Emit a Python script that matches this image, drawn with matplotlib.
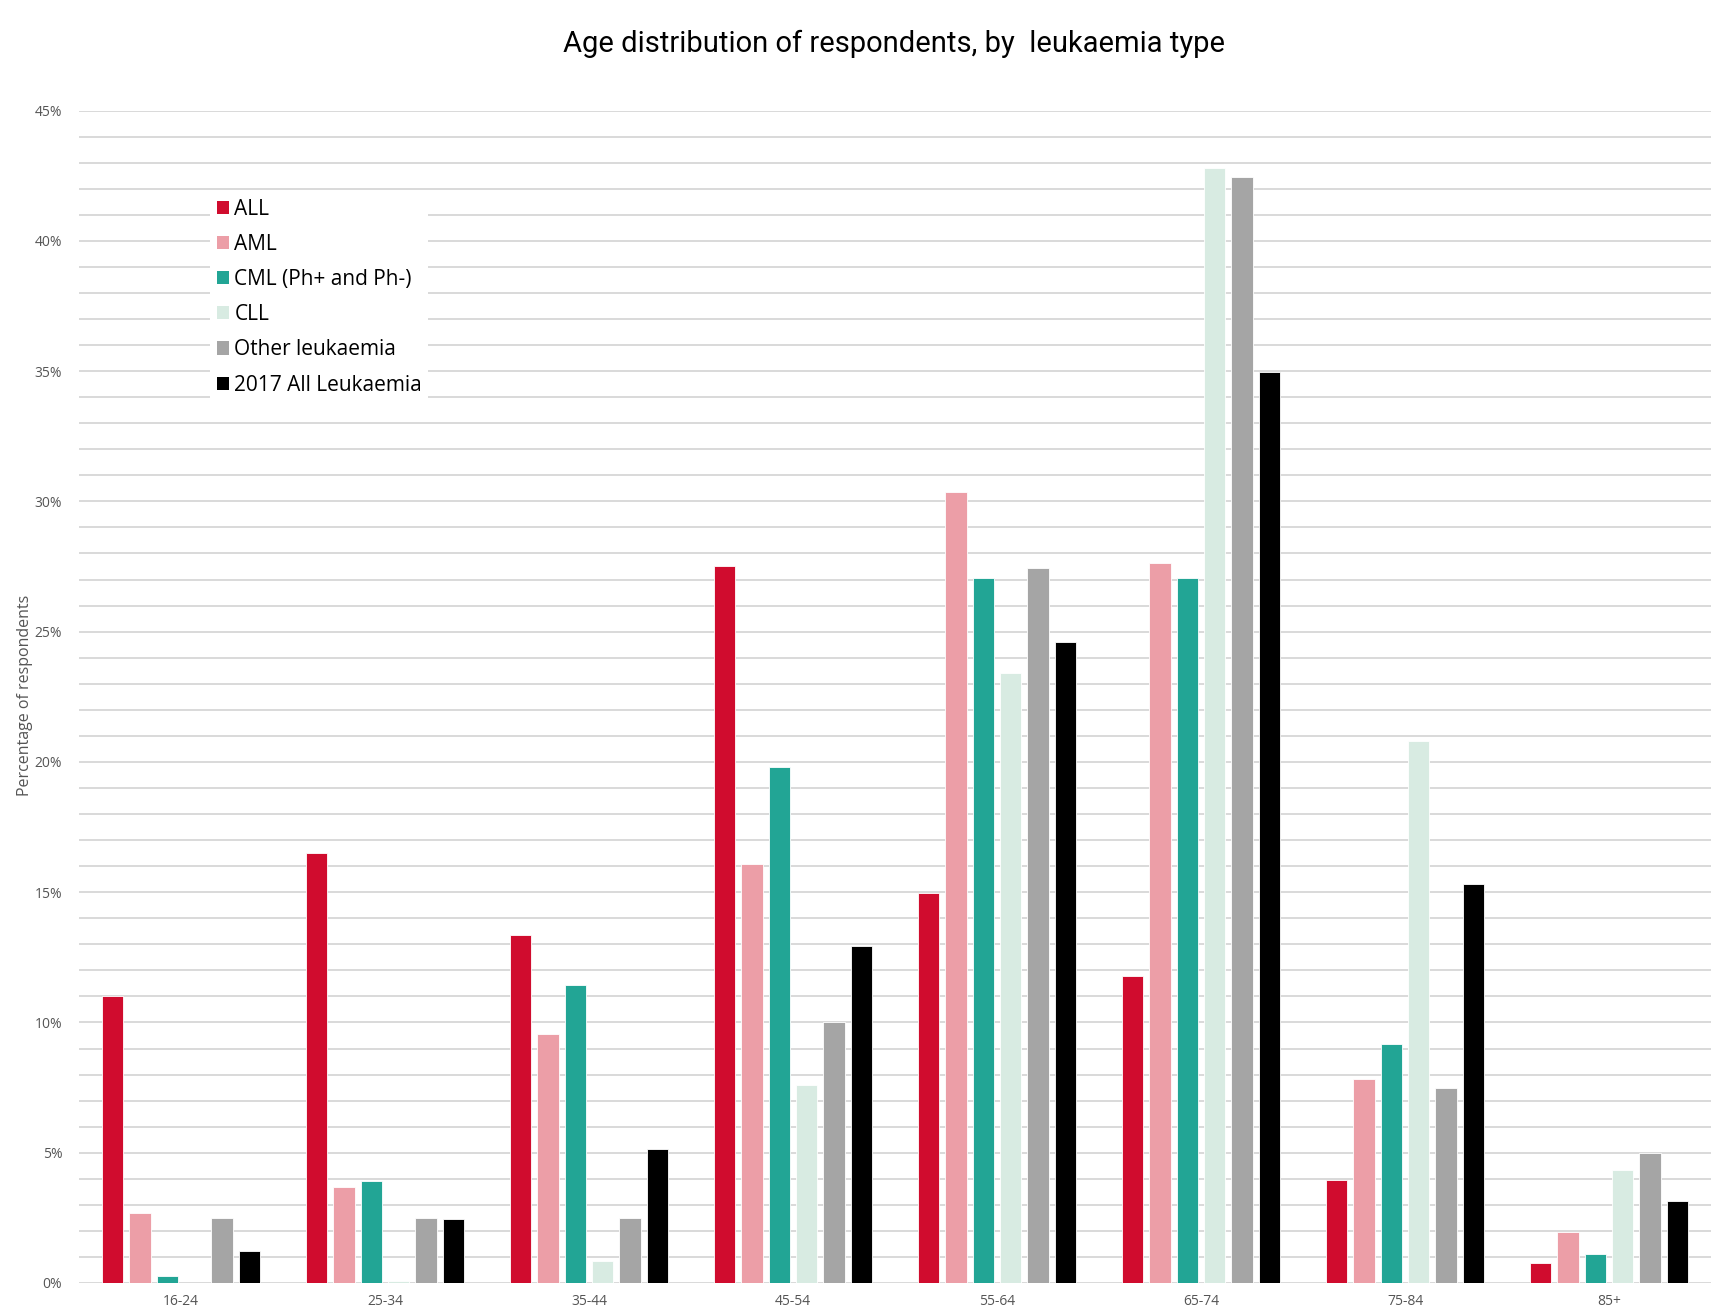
import matplotlib
matplotlib.use("Agg")
import matplotlib.pyplot as plt
from matplotlib.patches import Patch
from matplotlib.ticker import MultipleLocator, FuncFormatter
import numpy as np

# age bands and percentage of respondents per leukaemia type
ages = ["16-24", "25-34", "35-44", "45-54", "55-64", "65-74", "75-84", "85+"]
all_pct = [11.0, 16.5, 13.35, 27.5, 14.95, 11.8, 3.94, 0.78]
aml_pct = [2.7, 3.68, 9.55, 16.1, 30.35, 27.65, 7.83, 1.95]
cml_pct = [0.27, 3.9, 11.43, 19.8, 27.05, 27.05, 9.17, 1.11]
cll_pct = [0.0, 0.08, 0.84, 7.58, 23.4, 42.8, 20.8, 4.34]
other_pct = [2.5, 2.5, 2.5, 10.0, 27.46, 42.45, 7.49, 5.0]
all2017_pct = [1.24, 2.45, 5.15, 12.93, 24.62, 34.95, 15.32, 3.16]

series = [all_pct, aml_pct, cml_pct, cll_pct, other_pct, all2017_pct]
names = ["ALL", "AML", "CML (Ph+ and Ph-)", "CLL", "Other leukaemia", "2017 All Leukaemia"]
colors = ["#D00C2E", "#EC9EA7", "#22A595", "#D8EBE2", "#A5A5A5", "#000000"]

fig = plt.figure(figsize=(17.12, 13.12), dpi=100)
ax = fig.add_axes([79 / 1712, 1 - 1283 / 1312, 1632 / 1712, (1283 - 110.5) / 1312])

x = np.arange(len(ages))
pitch = 0.134
width = 0.105
for i, (vals, col) in enumerate(zip(series, colors)):
    ax.bar(x + (i - 2.5) * pitch, vals, width, color=col, edgecolor="white",
           linewidth=0.6, zorder=3)

ax.set_xlim(-0.5, 7.5)
ax.set_ylim(0, 45)
ax.yaxis.set_major_locator(MultipleLocator(5))
ax.yaxis.set_minor_locator(MultipleLocator(1))
ax.yaxis.set_major_formatter(FuncFormatter(lambda v, p: f"{v:.0f}%"))
ax.grid(axis="y", which="both", color="#D9D9D9", linewidth=1.4, zorder=0)
ax.set_axisbelow(True)
for s in ax.spines.values():
    s.set_visible(False)

ax.set_xticks(x)
ax.set_xticklabels(ages)
ax.tick_params(axis="both", which="both", length=0, labelcolor="#555555",
               labelsize=10)
ax.tick_params(axis="y", pad=12)
ax.tick_params(axis="x", pad=8)
for lab in ax.get_xticklabels() + ax.get_yticklabels():
    lab.set_fontfamily(["Open Sans", "DejaVu Sans"])

fig.text(25 / 1712, 0.47, "Percentage of respondents", rotation=90,
         ha="center", va="center", fontsize=11.5, color="#555555",
         family=["Open Sans", "DejaVu Sans"])

fig.text(0.522, 1 - 44 / 1312, "Age distribution of respondents, by  leukaemia type",
         ha="center", va="center", fontsize=21, color="#000000",
         family=["Roboto", "DejaVu Sans"])

handles = [Patch(facecolor=c, edgecolor="none") for c in colors]
leg = ax.legend(handles, names, loc="upper left",
                bbox_to_anchor=(200 / 1712, 1 - 182 / 1312),
                bbox_transform=fig.transFigure,
                frameon=True, facecolor="white", edgecolor="none", framealpha=1,
                fancybox=False, borderpad=0.3, labelspacing=0.68,
                handlelength=0.6, handleheight=0.6, handletextpad=0.25,
                prop={"family": ["Open Sans", "DejaVu Sans"], "size": 15})
leg.set_zorder(5)

fig.savefig("out.png", dpi=100)
